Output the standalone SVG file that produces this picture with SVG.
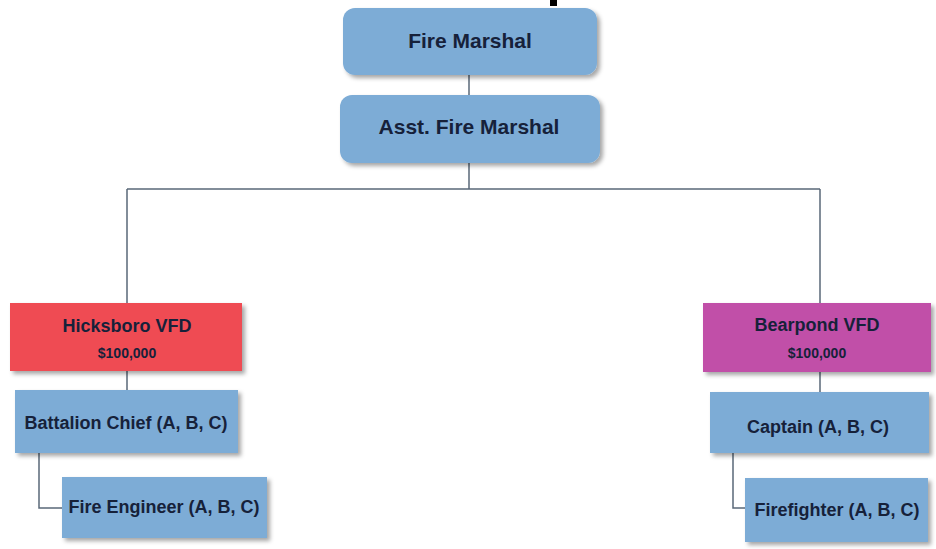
<svg xmlns="http://www.w3.org/2000/svg" width="936" height="549" viewBox="0 0 936 549">
  <defs>
    <filter id="sh" x="-10%" y="-10%" width="125%" height="135%">
      <feDropShadow dx="3" dy="3" stdDeviation="2" flood-color="#000" flood-opacity="0.35"/>
    </filter>
    <style>
      .box { fill: #7DACD6; filter: url(#sh); }
      .red { fill: #EF4B53; filter: url(#sh); }
      .mag { fill: #C150A8; filter: url(#sh); }
      .t { font-family: "Liberation Sans", Arial, sans-serif; font-weight: bold; fill: #16213A; text-anchor: middle; }
      .conn { stroke: #5A6878; stroke-width: 1.5; fill: none; }
    </style>
  </defs>
  <rect width="936" height="549" fill="#fff"/>
  <rect x="550" y="0" width="7" height="6" fill="#000"/>

  <g id="connectors">
    <path class="conn" d="M469 75 V95"/>
    <path class="conn" d="M469 163 V189 M127 189 H820 M127 189 V303 M820 189 V303"/>
    <path class="conn" d="M127 371 V390 M820 372 V392"/>
    <path class="conn" d="M39 453 V508 H62"/>
    <path class="conn" d="M733 453 V508 H745"/>
  </g>

  <g id="fire-marshal">
    <rect class="box" x="343" y="8" width="254" height="67" rx="12"/>
    <text class="t" x="470" y="48" font-size="21">Fire Marshal</text>
  </g>
  <g id="asst-fire-marshal">
    <rect class="box" x="340" y="95" width="260" height="68" rx="12"/>
    <text class="t" x="469" y="134" font-size="21">Asst. Fire Marshal</text>
  </g>
  <g id="hicksboro">
    <rect class="red" x="10" y="303" width="232" height="68"/>
    <text class="t" x="127" y="332" font-size="18">Hicksboro VFD</text>
    <text class="t" x="127" y="358" font-size="14">$100,000</text>
  </g>
  <g id="battalion-chief">
    <rect class="box" x="15" y="390" width="223" height="63"/>
    <text class="t" x="126" y="429" font-size="18">Battalion Chief (A, B, C)</text>
  </g>
  <g id="fire-engineer">
    <rect class="box" x="62" y="477" width="205" height="61"/>
    <text class="t" x="164" y="513" font-size="18">Fire Engineer (A, B, C)</text>
  </g>
  <g id="bearpond">
    <rect class="mag" x="703" y="303" width="228" height="69"/>
    <text class="t" x="817" y="331" font-size="18">Bearpond VFD</text>
    <text class="t" x="817" y="358" font-size="14">$100,000</text>
  </g>
  <g id="captain">
    <rect class="box" x="710" y="392" width="219" height="61"/>
    <text class="t" x="818" y="433" font-size="18">Captain (A, B, C)</text>
  </g>
  <g id="firefighter">
    <rect class="box" x="745" y="478" width="183" height="64"/>
    <text class="t" x="837" y="516" font-size="18">Firefighter (A, B, C)</text>
  </g>
</svg>
